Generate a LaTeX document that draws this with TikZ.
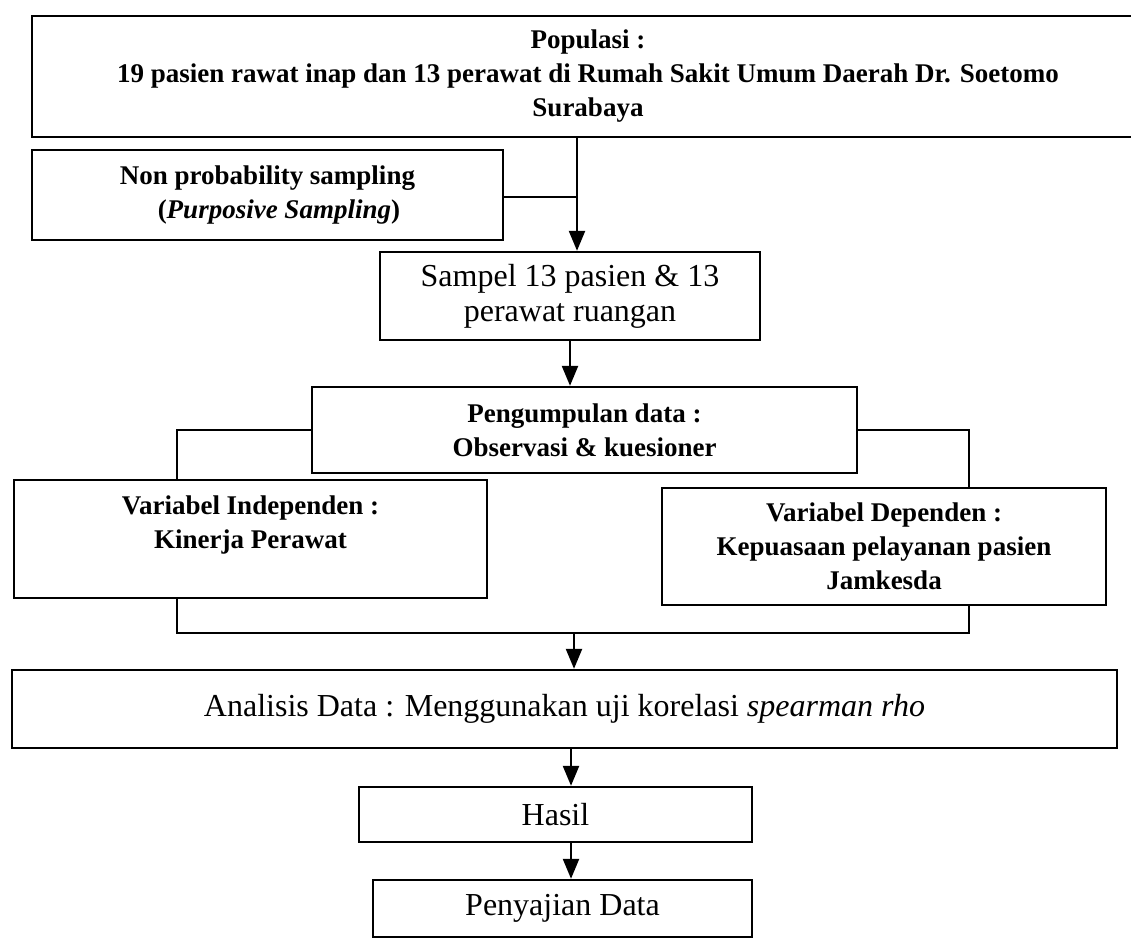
\documentclass[tikz,border=0pt]{standalone}
\usepackage{fontspec}
\setmainfont{Liberation Serif}
\usetikzlibrary{arrows.meta}

\newcommand{\smalltxt}{\fontsize{27}{34}\selectfont\bfseries}
\newcommand{\bigtxt}{\fontsize{32}{35}\selectfont}

\begin{document}
\begin{tikzpicture}[x=1pt, y=-1pt, line width=2.4pt,
  box/.style={draw, rectangle, inner sep=0pt, align=center},
  arr/.style={-{Triangle[length=20pt,width=16pt]}}]
\useasboundingbox (0,0) rectangle (1131,939);
\clip (0,0) rectangle (1131,939);

% Populasi
\node[box, minimum width=1112pt, minimum height=121pt, font=\smalltxt] (pop) at (588,76.5)
  {Populasi :\\19 pasien rawat inap dan 13 perawat di Rumah Sakit Umum Daerah Dr. Soetomo\\Surabaya};

% sampling
\node[box, align=left, minimum width=471pt, minimum height=90pt, font=\smalltxt] (nonprob) at (267.5,195)
  {Non probability sampling\\\hspace*{1.4em}(\textit{Purposive Sampling})};
\node[box, minimum width=380pt, minimum height=88pt, font=\bigtxt] (sampel) at (570,296)
  {Sampel 13 pasien \& 13\\perawat ruangan};

% pengumpulan data
\node[box, minimum width=545pt, minimum height=86pt, font=\smalltxt] (peng) at (584.5,430)
  {Pengumpulan data :\\Observasi \& kuesioner};

% variabel
\node[box, minimum width=473pt, minimum height=118pt, font=\smalltxt] (varind) at (250.5,539)
  {Variabel Independen :\\Kinerja Perawat\\\mbox{}};
\node[box, minimum width=444pt, minimum height=117pt, font=\smalltxt] (vardep) at (884,546.5)
  {Variabel Dependen :\\Kepuasaan pelayanan pasien\\Jamkesda};

% analisis
\node[box, minimum width=1105pt, minimum height=78pt, font=\bigtxt] (ana) at (564.5,709)
  {Analisis Data : Menggunakan uji korelasi \textit{spearman rho}};
\node[box, minimum width=393pt, minimum height=55pt, font=\bigtxt] (hasil) at (555.5,814.5) {Hasil};
\node[box, minimum width=379pt, minimum height=57pt, font=\bigtxt] (sajian) at (562.5,908.5) {Penyajian Data};

% junctions
\coordinate (j1) at (577,197);
\coordinate (j2) at (177,430);
\coordinate (j3) at (969,430);
\coordinate (j4) at (574,633);
\coordinate (j5) at (571,780);

\draw (nonprob.east |- j1) -- (j1);
\draw[arr] (pop.south -| j1) -- (sampel.north -| j1);
\draw[arr] (sampel.south) -- (sampel.south |- peng.north);
\draw (peng.west) -| (j2 |- varind.north);
\draw (peng.east) -| (j3 |- vardep.north);
\draw (j2 |- varind.south) -- (j2 |- j4) -- (j3 |- j4) -- (j3 |- vardep.south);
\draw[arr] (j4) -- (j4 |- ana.north);
\draw[arr] (ana.south -| j5) -- (hasil.north -| j5);
\draw[arr] (hasil.south -| j5) -- (sajian.north -| j5);
\end{tikzpicture}
\end{document}
